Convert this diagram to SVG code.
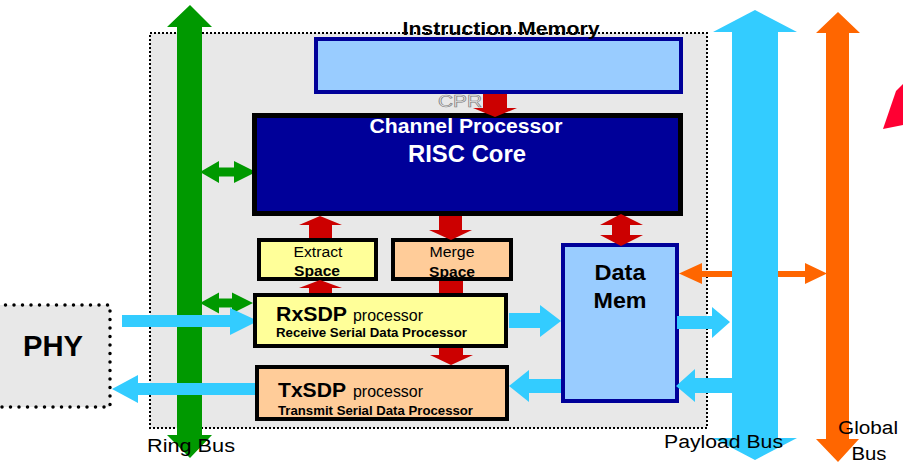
<svg xmlns="http://www.w3.org/2000/svg" width="903" height="463" viewBox="0 0 903 463">
<style>
text{font-family:"Liberation Sans",Arial,sans-serif;}
.b{font-weight:bold;}
.box{stroke:#000;stroke-width:4;}
.mem{fill:#99ccff;stroke:#000099;stroke-width:4;}
.red{fill:#cc0000;}
.cyan{fill:#33ccff;}
.green{fill:#009900;}
.orange{fill:#ff6600;}
.yel{fill:#ffff99;}
.pch{fill:#ffcc99;}
</style>
<rect x="150" y="33" width="557" height="395" fill="#e8e8e8" stroke="#000" stroke-width="2" stroke-dasharray="2 2"/>
<g id="phy">
<rect x="-20" y="305" width="130" height="102" fill="#e8e8e8" stroke="#000" stroke-width="3.5" stroke-linecap="round" stroke-dasharray="0 8.5"/>
<text x="53" y="356" font-size="30" class="b" text-anchor="middle" textLength="60" lengthAdjust="spacingAndGlyphs">PHY</text>
</g>
<g id="ring-bus">
<polygon class="green" points="190,5 212,27 202,27 202,435 212,435 190,458 167,435 177,435 177,27 167,27"/>
</g>
<g id="connectors">
<polygon class="green" points="200,172 219,161 219,167.5 234,167.5 234,161 256,172 234,183 234,176.5 219,176.5 219,183"/>
<polygon class="green" points="200,303 219,292.5 219,298.5 232,298.5 232,292.5 253,303 232,313.5 232,307.5 219,307.5 219,313.5"/>
<polygon class="cyan" points="122,315 230,315 230,308 258,321 230,335 230,327 122,327"/>
<polygon class="cyan" points="260,383 138,383 138,375 112,389 138,403 138,395 260,395"/>
<polygon class="red" points="439,281 463,281 463,355 473,355 451,365 430,355 439,355"/>
<polygon class="orange" points="679,273.5 702,263 702,271 805,271 805,263 827,273.5 805,284 805,277 702,277 702,284"/>
</g>
<g id="global-bus">
<polygon class="orange" points="838,12 860,33 849,33 849,439 859,439 838,462 816,439 826,439 826,33 816,33"/>
</g>
<g id="payload-bus">
<polygon class="cyan" points="755,10 797,32 778,32 778,438 797,438 755,460 713,438 732,438 732,32 713,32"/>
</g>
<g id="instruction-memory">
<rect class="mem" x="316" y="39" width="365" height="53"/>
<text x="501" y="35" font-size="18" class="b" text-anchor="middle" textLength="197" lengthAdjust="spacingAndGlyphs">Instruction Memory</text>
</g>
<g id="channel-processor">
<rect x="254.5" y="115.5" width="426" height="98" fill="#000099" stroke="#000" stroke-width="5"/>
<text x="466" y="133" font-size="20" class="b" fill="#fff" text-anchor="middle" textLength="193" lengthAdjust="spacingAndGlyphs">Channel Processor</text>
<text x="467" y="162" font-size="24" class="b" fill="#fff" text-anchor="middle" textLength="118" lengthAdjust="spacingAndGlyphs">RISC Core</text>
</g>
<g id="extract-space">
<rect class="box yel" x="259" y="240" width="117" height="39"/>
<text x="318" y="257" font-size="14" text-anchor="middle" textLength="49" lengthAdjust="spacingAndGlyphs">Extract</text>
<text x="317" y="276" font-size="14" class="b" text-anchor="middle" textLength="46" lengthAdjust="spacingAndGlyphs">Space</text>
</g>
<g id="merge-space">
<rect class="box pch" x="393" y="240" width="118" height="39"/>
<text x="452" y="257" font-size="14" text-anchor="middle" textLength="45" lengthAdjust="spacingAndGlyphs">Merge</text>
<text x="452" y="277" font-size="14" class="b" text-anchor="middle" textLength="46" lengthAdjust="spacingAndGlyphs">Space</text>
</g>
<g id="data-mem">
<rect class="mem" x="563" y="245" width="114" height="156"/>
<text x="620" y="280" font-size="22" class="b" text-anchor="middle" textLength="51" lengthAdjust="spacingAndGlyphs">Data</text>
<text x="620" y="308" font-size="22" class="b" text-anchor="middle" textLength="53" lengthAdjust="spacingAndGlyphs">Mem</text>
</g>
<g id="rxsdp">
<rect class="box yel" x="255" y="295" width="251" height="51"/>
<text x="276" y="321" font-size="21" class="b" textLength="71" lengthAdjust="spacingAndGlyphs">RxSDP</text>
<text x="353" y="321" font-size="16" textLength="70" lengthAdjust="spacingAndGlyphs">processor</text>
<text x="276" y="337" font-size="12.5" class="b" textLength="191" lengthAdjust="spacingAndGlyphs">Receive Serial Data Processor</text>
</g>
<g id="txsdp">
<rect class="box pch" x="257" y="367" width="250" height="52"/>
<text x="278" y="397" font-size="21" class="b" textLength="68" lengthAdjust="spacingAndGlyphs">TxSDP</text>
<text x="353" y="397" font-size="16" textLength="70" lengthAdjust="spacingAndGlyphs">processor</text>
<text x="278" y="415" font-size="12.5" class="b" textLength="195" lengthAdjust="spacingAndGlyphs">Transmit Serial Data Processor</text>
</g>
<g id="connectors-top">
<polygon class="red" points="483,94 507,94 507,108 517,108 495,117 473,108 483,108"/>
<polygon class="red" points="320,216 342,225 332,225 332,238 309,238 309,225 299,225"/>
<polygon class="red" points="320,280 342,288 332,288 332,293 309,293 309,288 299,288"/>
<polygon class="red" points="439,216 462,216 462,230 472,230 451,240 429,230 439,230"/>
<polygon class="red" points="621,214 643,225 630,225 630,235 643,235 621,246 600,235 612,235 612,225 600,225"/>
<polygon class="cyan" points="509,313 540,313 540,305 561,321 540,337 540,328 509,328"/>
<polygon class="cyan" points="561,379 529,379 529,370 509,386 529,402 529,393 561,393"/>
<polygon class="cyan" points="677,316 712,316 712,307 730,322 712,338 712,329 677,329"/>
<polygon class="cyan" points="732,378 695,378 695,369 676,386 695,402 695,393 732,393"/>
</g>
<text x="460" y="107" font-size="16" fill="#eeeeee" stroke="#777" stroke-width="0.6" text-anchor="middle" textLength="44" lengthAdjust="spacingAndGlyphs">CPR</text>
<polygon points="896,91 903,84 903,125 883,129" fill="#ff0033"/>
<text x="147" y="452" font-size="18" textLength="88" lengthAdjust="spacingAndGlyphs">Ring Bus</text>
<text x="664" y="448" font-size="18" textLength="119" lengthAdjust="spacingAndGlyphs">Payload Bus</text>
<text x="868" y="434" font-size="18" text-anchor="middle" textLength="60" lengthAdjust="spacingAndGlyphs">Global</text>
<text x="869" y="460" font-size="18" text-anchor="middle" textLength="35" lengthAdjust="spacingAndGlyphs">Bus</text>
</svg>
